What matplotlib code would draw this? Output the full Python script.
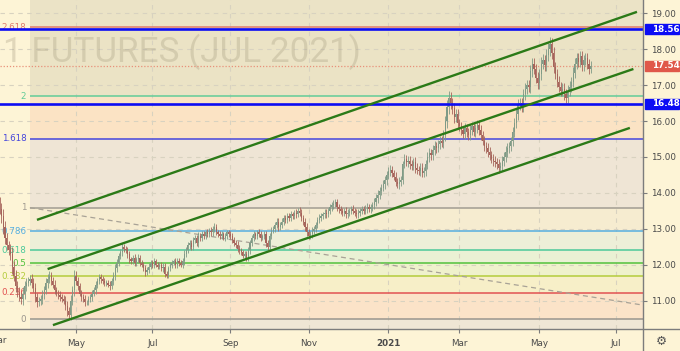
"""
Sugar #11 July 2021 futures, daily candles with a Fibonacci retracement,
a rising channel and two horizontal blue levels (TradingView-style).
"""

import matplotlib
matplotlib.use('Agg')
import matplotlib.pyplot as plt
import pandas as pd
from matplotlib.lines import Line2D
from matplotlib.patches import Rectangle

OUT_PATH = 'out.png'

# ---- data ---------------------------------------------------------------
CAL_START = '2020-03-02'
CAL_END = '2021-08-31'
FIRST_BAR = '2020-03-03'
first_open = 13.75

closes = [
    13.55, 13.35, 13.05, 12.75, 12.55, 12.40, 12.30, 11.95, 11.70, 11.40,
    11.25, 11.10, 11.05, 11.20, 11.40, 11.50, 11.55, 11.60, 11.50, 11.35,
    11.10, 10.95, 11.00, 11.05, 11.15, 11.30, 11.50, 11.60, 11.70, 11.55,
    11.45, 11.30, 11.20, 11.15, 11.10, 11.05, 11.00, 10.85, 10.70, 10.60,
    11.00, 11.30, 11.70, 11.55, 11.40, 11.20, 11.10, 11.05, 10.95, 10.95,
    11.05, 11.10, 11.20, 11.30, 11.45, 11.55, 11.65, 11.60, 11.55, 11.50,
    11.50, 11.45, 11.40, 11.55, 11.70, 11.90, 12.05, 12.25, 12.35, 12.50,
    12.45, 12.40, 12.30, 12.15, 12.10, 12.20, 12.05, 12.15, 12.20, 12.05,
    12.00, 11.90, 11.80, 11.85, 11.95, 12.05, 12.00, 12.10, 12.00, 11.95,
    12.00, 11.90, 11.95, 11.75, 11.70, 11.90, 12.00, 12.05, 12.10, 12.00,
    12.10, 12.05, 12.00, 12.10, 12.30, 12.40, 12.55, 12.60, 12.50, 12.70,
    12.75, 12.60, 12.80, 12.75, 12.85, 12.80, 12.90, 12.85, 12.95, 12.90,
    13.00, 13.05, 12.90, 12.85, 12.80, 12.85, 12.75, 12.80, 12.90, 12.85,
    12.80, 12.70, 12.60, 12.55, 12.45, 12.40, 12.35, 12.25, 12.30, 12.20,
    12.40, 12.60, 12.75, 12.85, 12.80, 12.90, 12.85, 12.75, 12.80, 12.85,
    12.60, 12.50, 12.80, 12.95, 13.00, 13.10, 13.20, 13.05, 13.10, 13.20,
    13.30, 13.25, 13.35, 13.30, 13.40, 13.35, 13.45, 13.40, 13.50, 13.45,
    13.30, 13.20, 13.05, 12.90, 12.80, 12.85, 12.95, 13.00, 13.10, 13.25,
    13.30, 13.35, 13.40, 13.45, 13.40, 13.50, 13.60, 13.65, 13.70, 13.75,
    13.60, 13.55, 13.50, 13.45, 13.50, 13.40, 13.45, 13.50, 13.55, 13.50,
    13.45, 13.40, 13.45, 13.50, 13.55, 13.50, 13.55, 13.60, 13.55, 13.60,
    13.65, 13.75, 13.85, 13.95, 14.05, 14.15, 14.25, 14.35, 14.50, 14.60,
    14.65, 14.55, 14.45, 14.30, 14.25, 14.30, 14.35, 14.80, 14.95, 14.85,
    14.90, 14.80, 14.75, 14.85, 14.70, 14.65, 14.60, 14.70, 14.55, 14.60,
    14.80, 15.00, 15.10, 15.05, 15.20, 15.30, 15.25, 15.35, 15.45, 15.40,
    15.60, 16.00, 16.40, 16.65, 16.50, 16.35, 16.10, 16.20, 15.95, 15.85,
    15.75, 15.65, 15.80, 15.70, 15.60, 15.75, 15.85, 15.70, 15.80, 15.90,
    15.75, 15.60, 15.45, 15.30, 15.25, 15.15, 15.05, 14.95, 14.90, 14.85,
    14.80, 14.70, 14.75, 14.90, 15.00, 15.15, 15.25, 15.30, 15.45, 15.70,
    15.95, 16.20, 16.45, 16.50, 16.40, 16.75, 16.90, 17.00, 16.95, 17.40,
    17.60, 17.45, 17.20, 17.05, 17.30, 17.60, 17.70, 17.55, 17.85, 18.00,
    18.15, 17.90, 17.50, 17.30, 17.10, 16.95, 16.85, 16.90, 16.75, 16.65,
    16.85, 16.95, 17.10, 17.35, 17.60, 17.75, 17.65, 17.80, 17.55, 17.70,
    17.75, 17.60, 17.45, 17.54,
]

# wick length beyond the body, in hundredths
wick = [
    15, 18, 20, 16, 14, 12, 18, 20, 15, 16,
    14, 12, 15, 18, 14, 12, 10, 12, 14, 12,
    15, 12, 10, 12, 14, 10, 12, 15, 12, 10,
    10, 12, 8, 10, 12, 9, 10, 12, 14, 12,
    15, 12, 16, 12, 10, 8, 10, 9, 10, 8,
    8, 9, 10, 8, 10, 9, 8, 10, 9, 8,
    8, 7, 9, 8, 10, 12, 10, 9, 8, 10,
    9, 8, 10, 9, 8, 7, 9, 8, 10, 8,
    7, 8, 10, 8, 9, 7, 8, 9, 7, 8,
    8, 7, 9, 10, 8, 7, 8, 9, 7, 8,
    8, 9, 7, 8, 10, 9, 8, 10, 9, 8,
    9, 8, 10, 8, 9, 8, 7, 9, 8, 10,
    9, 10, 8, 7, 9, 8, 7, 9, 8, 7,
    8, 9, 7, 8, 10, 9, 8, 7, 8, 9,
    9, 10, 8, 9, 7, 8, 9, 8, 7, 9,
    10, 9, 8, 9, 7, 8, 9, 10, 8, 9,
    8, 9, 10, 8, 9, 7, 8, 9, 8, 10,
    9, 8, 10, 11, 9, 8, 10, 9, 8, 9,
    10, 9, 8, 9, 10, 8, 9, 10, 9, 8,
    9, 10, 8, 9, 8, 10, 9, 8, 9, 10,
    8, 9, 10, 9, 8, 9, 10, 11, 9, 10,
    11, 10, 12, 14, 12, 10, 11, 13, 12, 11,
    12, 11, 10, 12, 11, 13, 12, 10, 12, 11,
    12, 13, 11, 12, 14, 12, 11, 13, 12, 11,
    12, 14, 15, 13, 12, 14, 13, 12, 14, 13,
    14, 15, 18, 20, 16, 14, 15, 13, 14, 12,
    13, 12, 14, 13, 12, 14, 13, 12, 13, 14,
    14, 13, 12, 14, 13, 14, 12, 13, 14, 12,
    13, 14, 12, 13, 14, 15, 14, 13, 12, 14,
    14, 15, 16, 14, 15, 14, 16, 15, 14, 16,
    16, 15, 14, 16, 15, 17, 16, 15, 16, 18,
    18, 16, 15, 14, 16, 15, 14, 16, 15, 14,
    15, 16, 14, 15, 16, 14, 15, 14, 16, 15,
    14, 15, 13, 12,
]

# Fibonacci retracement
fib_low, fib_high = 10.49, 13.59
fib_anchor = '2020-03-26'
fib_ratios = [0, 0.236, 0.382, 0.5, 0.618, 0.786, 1, 1.618, 2, 2.618]
fib_labels = ['0', '0.236', '0.382', '0.5', '0.618', '0.786', '1',
              '1.618', '2', '2.618']
fib_colors = ['#9a968e', '#e25252', '#b4cc3c', '#52c23c', '#4cc99a',
              '#55aee0', '#a29c92', '#4646dc', '#62cc98', '#df7a6c']
# fill below 0, between each pair of levels, and above 2.618
zone_colors = ['#efe6d5', '#fbe3c8', '#f7efc8', '#eff1cc', '#eaf1d4',
               '#edefd8', '#f6ecd0', '#efe5d5', '#fbe3c4', '#ebe3c5',
               '#ebe3c6']

# channel lines: (start date, start price, end date, end price)
channels = [
    ('2020-04-01', 13.25, '2021-07-19', 19.04),
    ('2020-04-09', 11.88, '2021-07-15', 17.45),
    ('2020-04-14', 10.32, '2021-07-13', 15.81),
]

# fib trend line (dashed)
trend_line = ('2020-03-26', 13.59, '2021-07-22', 10.88)

blue_levels = [18.56, 16.48]

y_ticks = [11, 12, 13, 14, 15, 16, 17, 18, 19]
month_ticks = ['2020-03-02', '2020-05-01', '2020-07-01', '2020-09-01',
               '2020-11-02', '2021-01-04', '2021-03-01', '2021-05-03',
               '2021-07-01']
month_labels = ['Mar', 'May', 'Jul', 'Sep', 'Nov', '2021', 'Mar', 'May', 'Jul']

watermark = '1 FUTURES (JUL 2021)'

# ---- styling ------------------------------------------------------------
bg = '#fdf4d6'
up_col = '#7f9a86'
dn_col = '#a6645b'
chan_col = '#2b7a17'
blue = '#0c0cf4'
tag_red = '#e0584a'
axis_col = '#7c7c7c'
txt_col = '#4a4a4a'
grid_col = '#d8d2c0'

W, H = 680, 351
AX_RIGHT, AX_BOTTOM = 643, 329

cal = pd.bdate_range(CAL_START, CAL_END)


def xpos(d):
    return cal.get_loc(pd.Timestamp(d))


def main():
    fig = plt.figure(figsize=(W / 100, H / 100), dpi=100)
    fig.patch.set_facecolor(bg)
    ax = fig.add_axes([0, (H - AX_BOTTOM) / H, AX_RIGHT / W, AX_BOTTOM / H])
    ax.set_facecolor(bg)

    xmin, xmax = 1.18, 363.4
    ax.set_xlim(xmin, xmax)
    ax.set_ylim(10.212, 19.37)

    # grid
    for d in month_ticks:
        ax.axvline(xpos(d), color=grid_col, lw=0.8, ls=(0, (4, 4)), zorder=1)
    for v in y_ticks:
        ax.axhline(v, color=grid_col, lw=0.8, ls=(0, (4, 4)), zorder=1)

    # fib zones and levels
    fx = xpos(fib_anchor)
    rng = fib_high - fib_low
    levels = [fib_low + r * rng for r in fib_ratios]
    bounds = [ax.get_ylim()[0]] + levels + [ax.get_ylim()[1]]
    for i, c in enumerate(zone_colors):
        ax.fill_between([fx, xmax + 5], bounds[i], bounds[i + 1],
                        color=c, lw=0, zorder=0.5)
    for p, lbl, c in zip(levels, fib_labels, fib_colors):
        ax.hlines(p, fx, xmax + 5, color=c, lw=1.1, zorder=2)
        ax.annotate(lbl, xy=(fx, p), xytext=(-2.5, 0),
                    textcoords='offset points', ha='right', va='center',
                    color=c, fontsize=6.3, zorder=2)

    x0, y0, x1, y1 = trend_line
    ax.plot([xpos(x0), xpos(x1)], [y0, y1], color='#a8a296', lw=0.9,
            ls=(0, (4, 3)), zorder=2)

    # watermark
    ax.text(3 / W, (H - 62) / H, watermark, transform=fig.transFigure,
            fontsize=25.3, family=['Roboto', 'DejaVu Sans'],
            color='#a69c80', alpha=0.32, ha='left', va='baseline', zorder=1.5)

    # candles
    n = len(closes)
    start = xpos(FIRST_BAR)
    xs = list(range(start, start + n))
    opens = [first_open] + closes[:-1]
    cols, his, los, bots, hts = [], [], [], [], []
    for o, c, w in zip(opens, closes, wick):
        cols.append(up_col if c >= o else dn_col)
        his.append(max(o, c) + w / 100)
        los.append(min(o, c) - w / 100)
        bots.append(min(o, c))
        hts.append(max(abs(c - o), 0.02))
    ax.vlines(xs, los, his, colors=cols, lw=0.6, zorder=5)
    ax.bar(xs, hts, bottom=bots, width=0.62, color=cols, lw=0, zorder=6)

    # horizontal levels
    last = closes[-1]
    ax.axhline(last, color='#e8917a', lw=0.9, ls=(0, (1, 1.5)), zorder=4)
    for v in blue_levels:
        ax.axhline(v, color=blue, lw=1.9, zorder=7)

    # channel
    for d0, p0, d1, p1 in channels:
        ax.plot([xpos(d0), xpos(d1)], [p0, p1], color=chan_col, lw=1.7,
                solid_capstyle='butt', zorder=8)

    # axes
    for s in ('left', 'top', 'bottom', 'right'):
        ax.spines[s].set_visible(False)
    ax.yaxis.tick_right()
    ax.set_yticks(y_ticks)
    ax.set_yticklabels([f'{v:.2f}' for v in y_ticks])
    ax.tick_params(axis='y', length=3, pad=3, color=axis_col,
                   labelcolor=txt_col, labelsize=6.3)

    vis = [(xpos(d), l) for d, l in zip(month_ticks, month_labels)
           if xmin <= xpos(d) <= xmax]
    ax.set_xticks([v[0] for v in vis])
    ax.set_xticklabels([v[1] for v in vis])
    ax.tick_params(axis='x', length=3, pad=4, color=axis_col,
                   labelcolor=txt_col, labelsize=6.3)
    for t in ax.get_xticklabels():
        if t.get_text().isdigit():
            t.set_fontweight('bold')
    for d, l in zip(month_ticks, month_labels):
        if xpos(d) < xmin:
            ax.text(xpos(d), -0.034, l, transform=ax.get_xaxis_transform(),
                    ha='center', va='center', fontsize=6.3, color=txt_col)

    # price tags on the scale
    tags = [(blue_levels[0], blue), (last, tag_red), (blue_levels[1], blue)]
    for v, c in tags:
        ax.add_patch(Rectangle((645 / AX_RIGHT, v - 0.145), 34 / AX_RIGHT, 0.29,
                               transform=ax.get_yaxis_transform(),
                               color=c, clip_on=False, zorder=9))
        ax.text(652 / AX_RIGHT, v, f'{v:.2f}', transform=ax.get_yaxis_transform(),
                ha='left', va='center', color='white', fontsize=6.3,
                fontweight='bold', zorder=10)

    # frame lines
    fig.add_artist(Line2D([0, 1], [(H - AX_BOTTOM) / H] * 2,
                          transform=fig.transFigure, color=axis_col, lw=1))
    fig.add_artist(Line2D([AX_RIGHT / W] * 2, [0, 1],
                          transform=fig.transFigure, color=axis_col, lw=1))
    fig.text(661 / W, 10 / H, '\u2699', ha='center', va='center',
             fontsize=9, color='#555555')

    fig.savefig(OUT_PATH, dpi=100, facecolor=bg)
    plt.close(fig)


if __name__ == '__main__':
    main()
